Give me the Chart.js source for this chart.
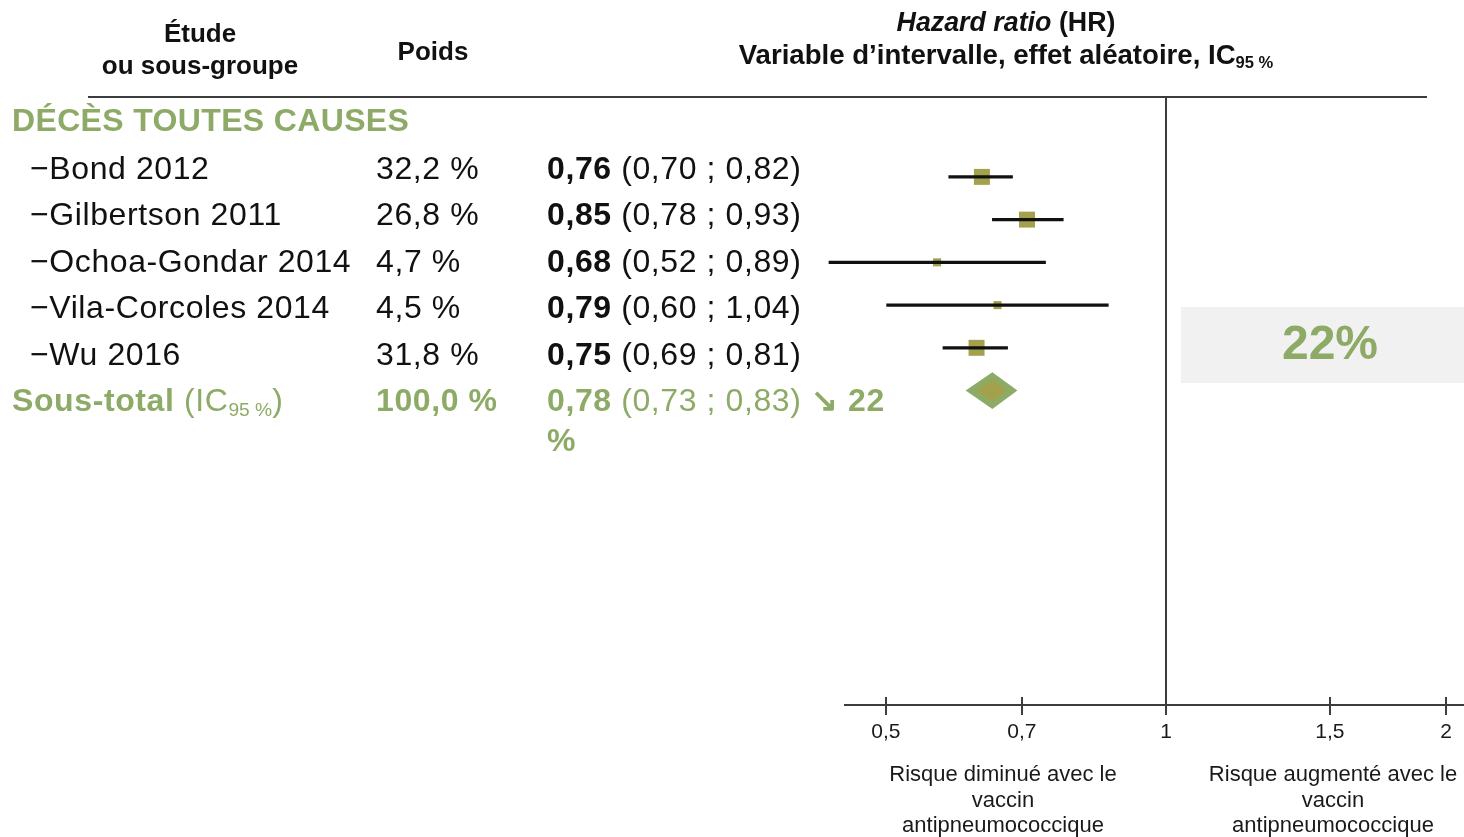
<!DOCTYPE html>
<html lang="fr">
<head>
<meta charset="utf-8">
<title>Décès toutes causes - hazard ratio</title>
<script src="https://cdn.jsdelivr.net/npm/chart.js@4.4.1/dist/chart.umd.min.js"></script>
<style>
  html, body { margin: 0; padding: 0; background: #fff; }
  #page { position: relative; width: 1464px; height: 837px; overflow: hidden;
          font-family: "Liberation Sans", Arial, sans-serif; color: #111; }
  #page canvas { position: absolute; left: 0; top: 0; }
  .t { position: absolute; white-space: nowrap; font-size: 32px; line-height: 40px; letter-spacing: 0.6px; }
  .green { color: #8dab66; }
  .hd { position: absolute; font-weight: bold; text-align: center; white-space: nowrap; }
  .foot { position: absolute; width: 300px; text-align: center; font-size: 22px; line-height: 25.5px; color: #1a1a1a; }
  sub { font-size: 60%; vertical-align: -0.25em; line-height: 0; letter-spacing: 0; }
  #box { position: absolute; left: 1181px; top: 307px; width: 283px; height: 76px; background: #f1f1f1; }
  #big { position: absolute; left: 1230px; width: 200px; top: 313px; line-height: 60px; text-align: center;
         font-size: 48px; font-weight: bold; }
  #rule { position: absolute; left: 88px; top: 96px; width: 1339px; height: 2px; background: #3c3c3c; }
</style>
</head>
<body>
<div id="page">
  <div id="box"></div>
  <div id="rule"></div>
  <canvas id="forest" width="1464" height="837"></canvas>
  <div class="hd" style="left:50px;width:300px;top:17px;font-size:26px;line-height:32px;">Étude<br>ou sous-groupe</div>
  <div class="hd" style="left:333px;width:200px;top:35px;font-size:26px;line-height:32px;">Poids</div>
  <div class="hd" style="left:606px;width:800px;top:6px;font-size:26.8px;line-height:32px;"><i>Hazard ratio</i> (HR)</div>
  <div class="hd" style="left:606px;width:800px;top:39px;font-size:27.6px;line-height:32px;">Variable d’intervalle, effet aléatoire, IC<sub>95 %</sub></div>
  <div class="t green" style="left:12px;top:100px;font-weight:bold;letter-spacing:0.35px;">DÉCÈS TOUTES CAUSES</div>
  <div class="foot" style="left:853px;top:761px;">Risque diminué avec le<br>vaccin<br>antipneumococcique</div>
  <div class="foot" style="left:1183px;top:761px;">Risque augmenté avec le<br>vaccin<br>antipneumococcique</div>
  <div id="big" class="green"></div>
</div>
<script>
// données de la méta-analyse
const studies = ['Bond 2012', 'Gilbertson 2011', 'Ochoa-Gondar 2014', 'Vila-Corcoles 2014', 'Wu 2016'];
const weights = [32.2, 26.8, 4.7, 4.5, 31.8];
const hr = [0.76, 0.85, 0.68, 0.79, 0.75];
const ciLow = [0.70, 0.78, 0.52, 0.60, 0.69];
const ciHigh = [0.82, 0.93, 0.89, 1.04, 0.81];

const totalWeight = 100.0;
const totalHr = 0.78;
const totalLow = 0.73;
const totalHigh = 0.83;
const reduction = 22;

const tickValues = [0.5, 0.7, 1, 1.5, 2];

const green = '#8dab66';
const olive = '#a4a14d';
const dark = '#3c3c3c';

function fr(v, d) {
  return v.toFixed(d).replace('.', ',');
}

// colonnes de texte à gauche
const page = document.getElementById('page');
function addText(html, x, cy, extra) {
  const el = document.createElement('div');
  el.className = 't' + (extra ? ' ' + extra : '');
  el.style.left = x + 'px';
  el.style.top = (cy - 20) + 'px';
  el.innerHTML = html;
  page.appendChild(el);
}

studies.forEach((s, i) => {
  const cy = 168 + i * 46.4;
  addText('−' + s, 30, cy);
  addText(fr(weights[i], 1) + ' %', 376, cy);
  addText('<b>' + fr(hr[i], 2) + '</b> (' + fr(ciLow[i], 2) + ' ; ' + fr(ciHigh[i], 2) + ')', 547, cy);
});

const totalY = 168 + studies.length * 46.4;
addText('<b>Sous-total</b> (IC<sub>95 %</sub>)', 12, totalY, 'green');
addText('<b>' + fr(totalWeight, 1) + ' %</b>', 376, totalY, 'green');
addText('<b>' + fr(totalHr, 2) + '</b> (' + fr(totalLow, 2) + ' ; ' + fr(totalHigh, 2) + ') <b>↘ ' + reduction + '<br>%</b>', 547, totalY, 'green');
document.getElementById('big').textContent = reduction + '%';

// petits traits de graduation au-dessus de l'axe
const tickUp = {
  id: 'tickUp',
  afterDraw(chart) {
    const sx = chart.scales.x;
    const ctx = chart.ctx;
    ctx.save();
    ctx.strokeStyle = dark;
    ctx.lineWidth = 2;
    sx.ticks.forEach(t => {
      const px = Math.round(sx.getPixelForValue(t.value));
      ctx.beginPath();
      ctx.moveTo(px, sx.top - 8);
      ctx.lineTo(px, sx.top);
      ctx.stroke();
    });
    ctx.restore();
  }
};

// losange du sous-total
const diamond = {
  id: 'diamond',
  afterDatasetsDraw(chart) {
    const sx = chart.scales.xd;
    const sy = chart.scales.y;
    const ctx = chart.ctx;
    const row = studies.length;
    const xl = sx.getPixelForValue(totalLow);
    const xm = sx.getPixelForValue(totalHr);
    const xh = sx.getPixelForValue(totalHigh);
    const ym = sy.getPixelForValue(row);
    const yt = sy.getPixelForValue(row - 0.43);
    const yb = sy.getPixelForValue(row + 0.43);
    function shape(k, color) {
      ctx.beginPath();
      ctx.moveTo(xm + (xl - xm) * k, ym);
      ctx.lineTo(xm, ym + (yt - ym) * k);
      ctx.lineTo(xm + (xh - xm) * k, ym);
      ctx.lineTo(xm, ym + (yb - ym) * k);
      ctx.closePath();
      ctx.fillStyle = color;
      ctx.fill();
    }
    ctx.save();
    shape(1, green);
    shape(0.6, olive);
    ctx.restore();
  }
};

new Chart(document.getElementById('forest'), {
  type: 'scatter',
  data: {
    datasets: [
      {
        type: 'bar',
        indexAxis: 'y',
        xAxisID: 'xd',
        yAxisID: 'y',
        data: studies.map((s, i) => ({ x: [ciLow[i], ciHigh[i]], y: i })),
        backgroundColor: '#111',
        barThickness: 2.5,
        clip: false,
        order: 0
      },
      {
        type: 'scatter',
        xAxisID: 'xd',
        yAxisID: 'y',
        data: studies.map((s, i) => ({ x: hr[i], y: i })),
        pointStyle: 'rect',
        pointRadius: ctx => weights[ctx.dataIndex] > 10 ? 11.3 : 5.7,
        pointHoverRadius: ctx => weights[ctx.dataIndex] > 10 ? 11.3 : 5.7,
        backgroundColor: olive,
        borderWidth: 0,
        clip: false,
        order: 1
      }
    ]
  },
  options: {
    responsive: false,
    animation: false,
    layout: { autoPadding: false, padding: { left: 845, right: 0, top: 97, bottom: 82 } },
    plugins: {
      legend: { display: false },
      tooltip: { enabled: false }
    },
    scales: {
      x: {
        type: 'logarithmic',
        position: 'bottom',
        min: 0.452,
        max: 2.09,
        bounds: 'data',
        offset: false,
        afterBuildTicks: s => { s.ticks = tickValues.map(v => ({ value: v })); },
        afterFit: s => { s.height = 50; s.paddingLeft = 0; s.paddingRight = 0; },
        grid: {
          offset: false,
          color: c => (c.tick && c.tick.value === 1) ? dark : 'rgba(0,0,0,0)',
          lineWidth: 2,
          tickLength: 10,
          tickColor: dark,
          tickWidth: 2
        },
        border: { display: true, color: dark, width: 2 },
        ticks: {
          color: '#1a1a1a',
          font: { family: 'Liberation Sans', size: 21 },
          padding: 5,
          autoSkip: false,
          maxRotation: 0,
          callback: v => String(v).replace('.', ',')
        }
      },
      xd: {
        type: 'logarithmic',
        display: false,
        offset: false,
        min: 0.5411,
        max: 2.514,
        bounds: 'data'
      },
      y: {
        type: 'linear',
        display: false,
        offset: false,
        reverse: true,
        min: -1.869,
        max: 12.357
      }
    }
  },
  plugins: [tickUp, diamond]
});
</script>
</body>
</html>
